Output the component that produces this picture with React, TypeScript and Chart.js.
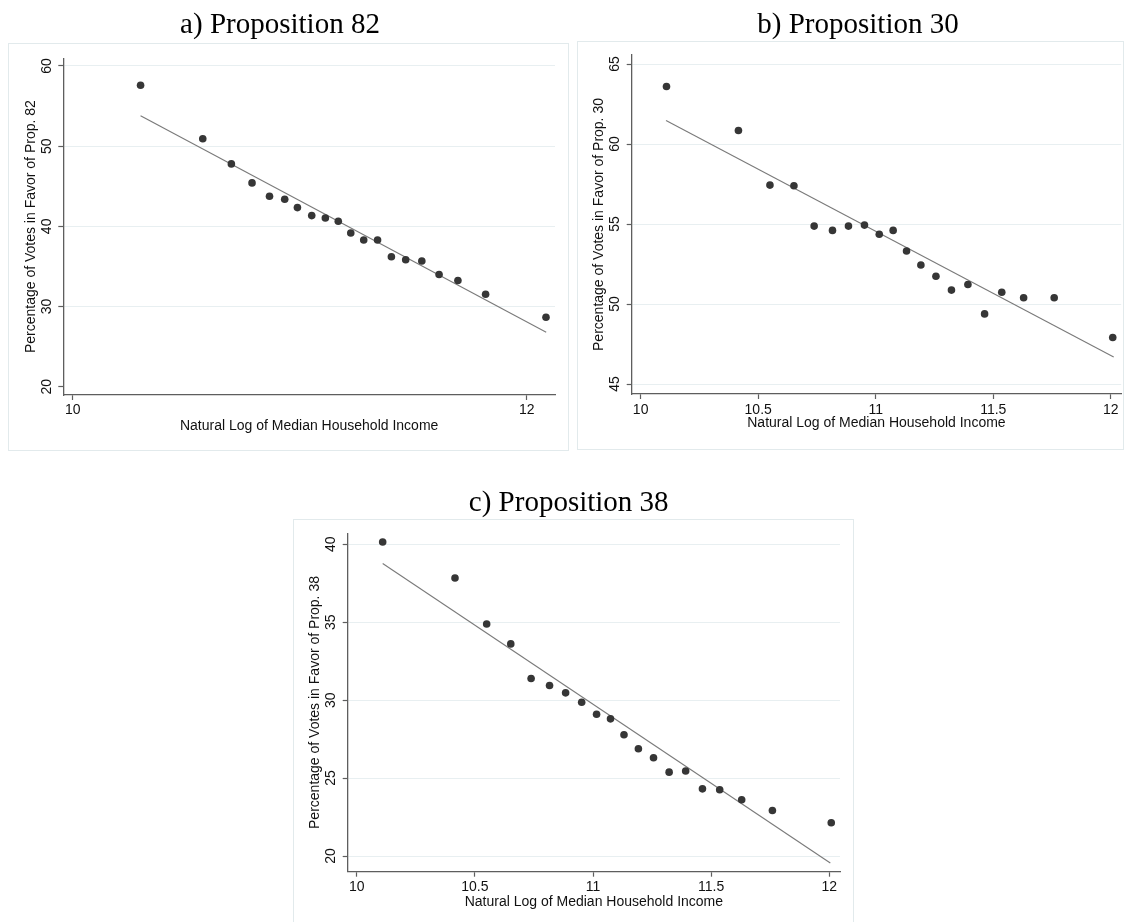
import React, { useEffect, useRef } from 'react';
import { Chart, registerables } from 'chart.js';

Chart.register(...registerables);

// ---------- data ----------
const X_LABEL = 'Natural Log of Median Household Income';

// a) Proposition 82
const propA_income = [10.299, 10.573, 10.699, 10.79, 10.867, 10.934, 10.99, 11.053, 11.113, 11.17, 11.225, 11.282, 11.343, 11.404, 11.467, 11.538, 11.614, 11.697, 11.819, 12.085];
const propA_votes = [57.59, 50.93, 47.79, 45.42, 43.75, 43.38, 42.34, 41.34, 41.04, 40.63, 39.17, 38.3, 38.3, 36.21, 35.84, 35.67, 34.0, 33.25, 31.54, 28.67];
const propA_fitIncome = [10.299, 12.086];
const propA_fitVotes = [53.8, 26.8];
const propA_xTicks = [10, 12];
const propA_yTicks = [20, 30, 40, 50, 60];

// b) Proposition 30 and c) Proposition 38 (same income bins)
const propBC_income = [10.11, 10.416, 10.55, 10.652, 10.738, 10.816, 10.884, 10.952, 11.015, 11.074, 11.131, 11.192, 11.256, 11.322, 11.392, 11.463, 11.536, 11.629, 11.759, 12.008];
const propB_votes = [63.59, 60.84, 57.43, 57.39, 54.87, 54.6, 54.87, 54.93, 54.36, 54.6, 53.31, 52.44, 51.73, 50.87, 51.22, 49.38, 50.73, 50.39, 50.39, 47.91];
const propB_fitIncome = [10.108, 12.012];
const propB_fitVotes = [61.47, 46.69];
const propC_votes = [40.15, 37.84, 34.89, 33.61, 31.39, 30.94, 30.47, 29.87, 29.1, 28.8, 27.78, 26.88, 26.3, 25.38, 25.45, 24.31, 24.25, 23.61, 22.92, 22.13];
const propC_fitIncome = [10.11, 12.004];
const propC_fitVotes = [38.77, 19.55];
const propBC_xTicks = [10, 10.5, 11, 11.5, 12];
const propB_yTicks = [45, 50, 55, 60, 65];
const propC_yTicks = [20, 25, 30, 35, 40];

// ---------- styles ----------
const SERIF = "'Liberation Serif', 'Times New Roman', Times, serif";
const SANS = "'Liberation Sans', Arial, Helvetica, sans-serif";
const DOT = '#363636';
const FIT = '#7a7a7a';
const AXIS = '#5e5e5e';
const GRID = '#e8eff1';
const FRAME = '#e2eaec';

type PanelCfg = {
  title: string;
  yLabel: string;
  xs: number[];
  ys: number[];
  fx: number[];
  fy: number[];
  xTicks: number[];
  yTicks: number[];
  xMin: number; xMax: number; yMin: number; yMax: number;
  canvas: { left: number; top: number; width: number; height: number };
  pad: { left: number; right: number; top: number; bottom: number };
  titlePad: { top: number; bottom: number };
  yAxisWidth: number; xAxisHeight: number;
  yTickPad: number; xTickPad: number; yTitlePad: number; xTitlePad: number;
  noGrid: number[];
  frame: { left: number; top: number; width: number; height: number };
};

const panels: PanelCfg[] = [
  {
    title: 'a) Proposition 82',
    yLabel: 'Percentage of Votes in Favor of Prop. 82',
    xs: propA_income, ys: propA_votes, fx: propA_fitIncome, fy: propA_fitVotes,
    xTicks: propA_xTicks, yTicks: propA_yTicks,
    xMin: 9.9586, xMax: 12.1247, yMin: 18.965, yMax: 60.96,
    canvas: { left: 0, top: 0, width: 560, height: 451 },
    pad: { left: 5, right: 5, top: 0, bottom: 11 },
    titlePad: { top: 7.8, bottom: 15.7 },
    yAxisWidth: 58.3, xAxisHeight: 45,
    yTickPad: 3.8, xTickPad: 1.6, yTitlePad: 18.1, xTitlePad: 5.6,
    noGrid: [20],
    frame: { left: 8, top: 43, width: 561, height: 408 },
  },
  {
    title: 'b) Proposition 30',
    yLabel: 'Percentage of Votes in Favor of Prop. 30',
    xs: propBC_income, ys: propB_votes, fx: propB_fitIncome, fy: propB_fitVotes,
    xTicks: propBC_xTicks, yTicks: propB_yTicks,
    xMin: 9.962, xMax: 12.044, yMin: 44.375, yMax: 65.5625,
    canvas: { left: 577, top: 0, width: 548, height: 451 },
    pad: { left: 16, right: 2, top: 0, bottom: 12 },
    titlePad: { top: 7.8, bottom: 12.4 },
    yAxisWidth: 38.7, xAxisHeight: 45,
    yTickPad: 3.9, xTickPad: 2.6, yTitlePad: -2.4, xTitlePad: 7.6,
    noGrid: [],
    frame: { left: 577, top: 41, width: 547, height: 409 },
  },
  {
    title: 'c) Proposition 38',
    yLabel: 'Percentage of Votes in Favor of Prop. 38',
    xs: propBC_income, ys: propC_votes, fx: propC_fitIncome, fy: propC_fitVotes,
    xTicks: propBC_xTicks, yTicks: propC_yTicks,
    xMin: 9.962, xMax: 12.045, yMin: 18.993, yMax: 40.706,
    canvas: { left: 293, top: 460, width: 557, height: 462 },
    pad: { left: 4.4, right: 10, top: 0, bottom: 5.3 },
    titlePad: { top: 25.5, bottom: 13 },
    yAxisWidth: 50.3, xAxisHeight: 45,
    yTickPad: 4.2, xTickPad: 1.6, yTitlePad: 9.2, xTitlePad: 5.8,
    noGrid: [],
    frame: { left: 293, top: 519, width: 561, height: 420 },
  },
];

function PanelChart({ p }: { p: PanelCfg }) {
  const ref = useRef<HTMLCanvasElement | null>(null);
  useEffect(() => {
    if (!ref.current) return;
    const tickFont = { family: SANS, size: 14, lineHeight: 1.2 };
    const chart = new Chart(ref.current, {
      type: 'scatter',
      data: {
        datasets: [
          {
            type: 'scatter',
            data: p.xs.map((x, i) => ({ x, y: p.ys[i] })),
            pointRadius: 3.8,
            pointHoverRadius: 3.8,
            pointBackgroundColor: DOT,
            pointBorderWidth: 0,
            pointBorderColor: DOT,
            order: 0,
          },
          {
            type: 'line',
            data: p.fx.map((x, i) => ({ x, y: p.fy[i] })),
            borderColor: FIT,
            borderWidth: 1.1,
            pointRadius: 0,
            showLine: true,
            fill: false,
            order: 1,
          } as any,
        ],
      },
      options: {
        animation: false,
        responsive: false,
        devicePixelRatio: 1,
        events: [],
        layout: { padding: p.pad },
        plugins: {
          legend: { display: false },
          tooltip: { enabled: false },
          title: {
            display: true,
            text: p.title,
            color: '#000',
            font: { family: SERIF, size: 29, weight: 'normal', lineHeight: 1.2 },
            padding: p.titlePad,
          },
        },
        scales: {
          x: {
            type: 'linear',
            position: 'bottom',
            min: p.xMin,
            max: p.xMax,
            afterBuildTicks: (s: any) => {
              s.ticks = p.xTicks.map((v) => ({ value: v }));
            },
            afterFit: (s: any) => {
              s.height = p.xAxisHeight;
            },
            ticks: {
              autoSkip: false,
              maxRotation: 0,
              minRotation: 0,
              padding: p.xTickPad,
              color: '#111',
              font: tickFont,
              callback: (v: any) => String(v),
            },
            grid: {
              display: true,
              drawOnChartArea: false,
              drawTicks: true,
              tickLength: 5,
              tickColor: AXIS,
              tickWidth: 1.2,
            },
            border: { display: true, color: AXIS, width: 1.3 },
            title: {
              display: true,
              text: X_LABEL,
              color: '#111',
              font: tickFont,
              padding: { top: 0, bottom: p.xTitlePad },
            },
          },
          y: {
            type: 'linear',
            position: 'left',
            min: p.yMin,
            max: p.yMax,
            afterBuildTicks: (s: any) => {
              s.ticks = p.yTicks.map((v) => ({ value: v }));
            },
            afterFit: (s: any) => {
              s.width = p.yAxisWidth;
            },
            ticks: {
              autoSkip: false,
              minRotation: 90,
              maxRotation: 90,
              crossAlign: 'center',
              padding: p.yTickPad,
              color: '#111',
              font: tickFont,
              callback: (v: any) => String(v),
            },
            grid: {
              display: true,
              drawOnChartArea: true,
              drawTicks: true,
              tickLength: 5,
              lineWidth: 1,
              color: (ctx: any) =>
                ctx.tick && p.noGrid.includes(ctx.tick.value) ? 'rgba(0,0,0,0)' : GRID,
              tickColor: AXIS,
              tickWidth: 1.2,
            },
            border: { display: true, color: AXIS, width: 1.3 },
            title: {
              display: true,
              text: p.yLabel,
              color: '#111',
              font: tickFont,
              padding: { top: p.yTitlePad, bottom: 0 },
            },
          },
        },
      } as any,
    });
    return () => chart.destroy();
  }, [p]);

  return (
    <>
      <div
        style={{
          position: 'absolute',
          left: p.frame.left,
          top: p.frame.top,
          width: p.frame.width,
          height: p.frame.height,
          boxSizing: 'border-box',
          border: `1px solid ${FRAME}`,
          background: '#fff',
        }}
      />
      <canvas
        ref={ref}
        width={p.canvas.width}
        height={p.canvas.height}
        style={{
          position: 'absolute',
          left: p.canvas.left,
          top: p.canvas.top,
          width: p.canvas.width + 'px',
          height: p.canvas.height + 'px',
        }}
      />
    </>
  );
}

export default function App() {
  return (
    <div
      style={{
        position: 'absolute',
        left: 0,
        top: 0,
        width: 1125,
        height: 922,
        overflow: 'hidden',
        background: '#fff',
      }}
    >
      {panels.map((p) => (
        <PanelChart key={p.title} p={p} />
      ))}
    </div>
  );
}
